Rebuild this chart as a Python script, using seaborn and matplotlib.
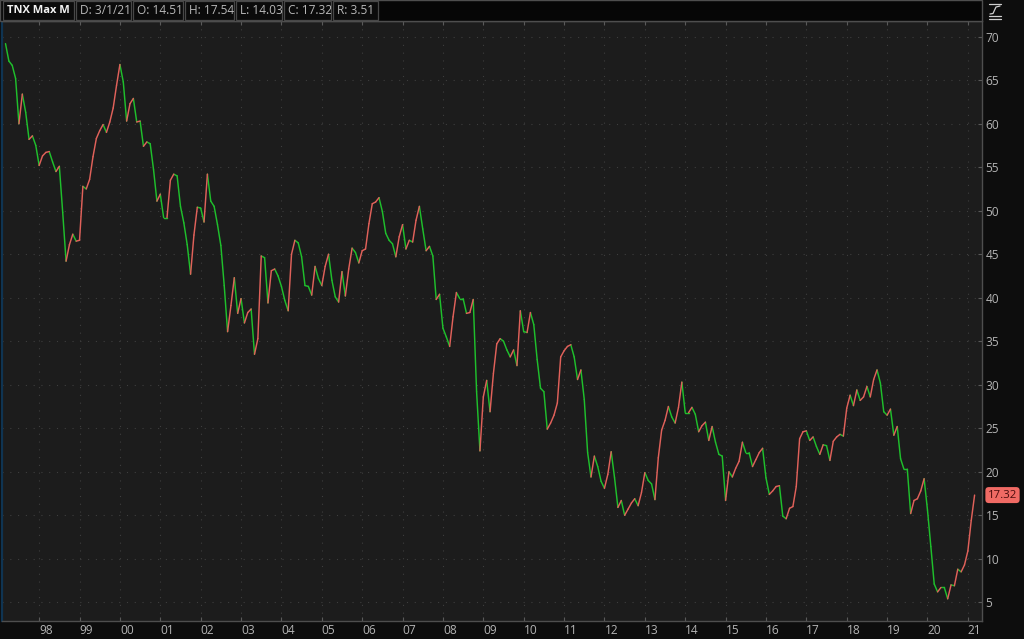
import numpy as np
import pandas as pd
import matplotlib
matplotlib.use("Agg")
import matplotlib.pyplot as plt
import matplotlib.transforms as mtransforms
from matplotlib.patches import Rectangle
from matplotlib.lines import Line2D
import seaborn as sns

# TNX fechamentos mensais (x10), de mar/1997 a mar/2021
tnx_1997 = [69.2, 67.2, 66.7, 65.2, 60.0, 63.4, 61.3, 58.2, 58.6, 57.5]
tnx_1998 = [55.2, 56.3, 56.7, 56.8, 55.6, 54.5, 55.1, 49.8, 44.2, 46.1, 47.3, 46.5]
tnx_1999 = [46.6, 52.8, 52.5, 53.6, 56.2, 58.3, 59.2, 59.9, 59.0, 60.2, 61.8, 64.4]
tnx_2000 = [66.8, 64.8, 60.3, 62.3, 62.9, 60.2, 60.3, 57.4, 57.9, 57.7, 54.7, 51.1]
tnx_2001 = [51.9, 49.2, 49.2, 53.5, 54.2, 54.0, 50.5, 48.6, 46.1, 42.7, 47.2, 50.4]
tnx_2002 = [50.3, 48.7, 54.2, 51.1, 50.5, 48.4, 46.0, 41.4, 36.1, 39.1, 42.3, 38.2]
tnx_2003 = [39.9, 37.1, 38.3, 38.7, 33.5, 35.3, 44.8, 44.6, 39.4, 43.1, 43.3, 42.5]
tnx_2004 = [41.3, 39.7, 38.5, 45.0, 46.6, 46.3, 44.7, 41.4, 41.3, 40.3, 43.6, 42.2]
tnx_2005 = [41.4, 43.6, 45.0, 42.0, 40.1, 39.5, 43.0, 40.2, 43.3, 45.7, 45.2, 44.0]
tnx_2006 = [45.4, 45.6, 48.5, 50.8, 51.0, 51.5, 49.9, 47.4, 46.6, 46.2, 44.7, 47.0]
tnx_2007 = [48.4, 45.6, 46.6, 46.4, 48.9, 50.5, 47.9, 45.4, 45.9, 44.8, 39.8, 40.4]
tnx_2008 = [36.5, 35.5, 34.4, 37.8, 40.6, 39.9, 39.9, 38.2, 38.3, 39.8, 29.2, 22.4]
tnx_2009 = [28.6, 30.5, 26.9, 31.3, 34.7, 35.3, 35.0, 34.0, 33.2, 34.0, 32.2, 38.5]
tnx_2010 = [36.1, 36.0, 38.3, 36.9, 32.9, 29.6, 29.2, 24.9, 25.6, 26.5, 27.9, 33.2]
tnx_2011 = [33.9, 34.4, 34.6, 33.2, 30.6, 31.7, 28.3, 22.2, 19.4, 21.8, 20.6, 18.9]
tnx_2012 = [18.1, 19.7, 22.3, 19.3, 15.9, 16.7, 15.0, 15.7, 16.4, 16.9, 16.1, 17.6]
tnx_2013 = [19.9, 19.0, 18.6, 16.8, 21.6, 24.8, 25.9, 27.5, 26.3, 25.6, 27.4, 30.3]
tnx_2014 = [26.8, 26.8, 27.4, 26.6, 24.6, 25.3, 25.7, 23.6, 25.2, 23.4, 22.0, 21.8]
tnx_2015 = [16.7, 20.0, 19.4, 20.4, 21.2, 23.4, 22.2, 22.2, 20.6, 21.4, 22.2, 22.7]
tnx_2016 = [19.3, 17.4, 17.8, 18.3, 18.4, 14.9, 14.6, 15.8, 16.0, 18.3, 23.8, 24.6]
tnx_2017 = [24.7, 23.6, 24.0, 22.9, 22.0, 23.1, 23.0, 21.3, 23.5, 24.0, 24.3, 24.1]
tnx_2018 = [27.3, 28.8, 27.6, 29.4, 28.2, 28.6, 29.8, 28.6, 30.6, 31.7, 30.2, 26.9]
tnx_2019 = [26.5, 27.2, 24.2, 25.2, 21.5, 20.3, 20.3, 15.2, 16.7, 16.9, 17.8, 19.2]
tnx_2020 = [15.6, 11.4, 7.1, 6.2, 6.7, 6.7, 5.4, 7.0, 6.9, 8.8, 8.5, 9.3]
tnx_2021 = [10.9, 14.4, 17.32]

anos_ticks = list(range(1998, 2022))
anos_labels = [f"{a % 100:02d}" for a in anos_ticks]
y_ticks = list(range(5, 75, 5))
ultimo = 17.32
cabecalho = ["TNX Max M", "D: 3/1/21", "O: 14.51", "H: 17.54", "L: 14.03", "C: 17.32", "R: 3.51"]

tnx = (tnx_1997 + tnx_1998 + tnx_1999 + tnx_2000 + tnx_2001 + tnx_2002 + tnx_2003 + tnx_2004
       + tnx_2005 + tnx_2006 + tnx_2007 + tnx_2008 + tnx_2009 + tnx_2010 + tnx_2011 + tnx_2012
       + tnx_2013 + tnx_2014 + tnx_2015 + tnx_2016 + tnx_2017 + tnx_2018 + tnx_2019 + tnx_2020
       + tnx_2021)

meses = pd.date_range("1997-03-01", periods=len(tnx), freq="MS")
x = np.asarray(meses.year + (meses.month - 1) / 12.0)

# cada segmento vira uma "unidade": sobe = vermelho, desce = verde
linhas = []
for i in range(len(tnx) - 1):
    d = "sobe" if tnx[i + 1] > tnx[i] else "desce"
    linhas.append((i, x[i], tnx[i], d))
    linhas.append((i, x[i + 1], tnx[i + 1], d))
seg = pd.DataFrame(linhas, columns=["seg", "ano", "tnx", "dir"])

VERMELHO = "#e0615a"
VERDE = "#1fbf2c"
FUNDO = "#0d0d0d"
PAINEL = "#1c1c1c"
TXT = "#b4b4b4"

sns.set_style("dark")
plt.rcParams["font.family"] = ["Open Sans", "DejaVu Sans"]

fig = plt.figure(figsize=(10.24, 6.39), dpi=100, facecolor=FUNDO)
W, H = 1024, 639
ax = fig.add_axes([2 / W, (H - 621) / H, (982 - 2) / W, (621 - 21) / H])
ax.set_facecolor(PAINEL)

sns.lineplot(data=seg, x="ano", y="tnx", hue="dir", units="seg", estimator=None,
             palette={"sobe": VERMELHO, "desce": VERDE}, legend=False,
             linewidth=1.05, ax=ax)

ax.set_xlim(1997.08, 2021.35)
ax.set_ylim(2.85, 71.8)
ax.set_xlabel("")
ax.set_ylabel("")

ax.set_xticks(anos_ticks)
ax.set_xticklabels(anos_labels, ha="left")
ax.yaxis.tick_right()
ax.set_yticks(y_ticks)
ax.set_yticklabels([str(v) for v in y_ticks])
ax.tick_params(axis="both", direction="in", length=3, width=0.8, color="#5a5a5a",
               labelcolor=TXT, labelsize=8.6)
ax.tick_params(axis="x", pad=2.5, top=True, bottom=True)
ax.tick_params(axis="y", pad=2.5, right=True, left=False)

ax.grid(True, color="#3e3e3e", linestyle=(0, (1, 6)), linewidth=0.8)
for lado in ["top", "right", "bottom"]:
    ax.spines[lado].set_color("#4e4e4e")
    ax.spines[lado].set_linewidth(1.0)
ax.spines["left"].set_color("#0f3452")
ax.spines["left"].set_linewidth(1.6)

# etiqueta do último valor
trans = mtransforms.blended_transform_factory(ax.transAxes, ax.transData)
ax.text(1.006, ultimo, f"{ultimo:.2f}", transform=trans, ha="left", va="center",
        fontsize=8.2, color="#4a0c0c", clip_on=False,
        bbox=dict(boxstyle="round,pad=0.22,rounding_size=0.3", fc="#f06a64", ec="none"))

# barra superior
caixas = [(3, 74), (76, 131), (133, 183), (185, 234), (236, 282), (284, 331), (333, 378)]
fig.patches.append(Rectangle((0, (H - 21) / H), 982 / W, 21 / H, transform=fig.transFigure,
                             fc="#060606", ec="#4e4e4e", lw=1.0))
for k, (x0, x1) in enumerate(caixas):
    r = Rectangle((x0 / W, (H - 20) / H), (x1 - x0) / W, 19 / H, transform=fig.transFigure,
                  fc="#0b0b0b", ec="#484848", lw=0.9)
    fig.patches.append(r)
    t = fig.text((x0 + 4) / W, (H - 10.5) / H, cabecalho[k], ha="left", va="center",
                 fontsize=8.0 if k == 0 else 8.6,
                 color="#f2f2f2" if k == 0 else "#b8b8b8",
                 fontweight="bold" if k == 0 else "normal")
    t.set_clip_path(r)

# ícone no canto
for xs, ys in [((989, 1001), (4, 4)), ((989, 1001), (16, 16)), ((989, 1001), (18.5, 18.5)),
               ((990, 993, 996, 1000), (14, 13.5, 7, 6))]:
    fig.add_artist(Line2D([v / W for v in xs], [(H - v) / H for v in ys],
                          transform=fig.transFigure, color="#d0d0d0", lw=0.9))

fig.savefig("out.png", dpi=100, facecolor=FUNDO)
